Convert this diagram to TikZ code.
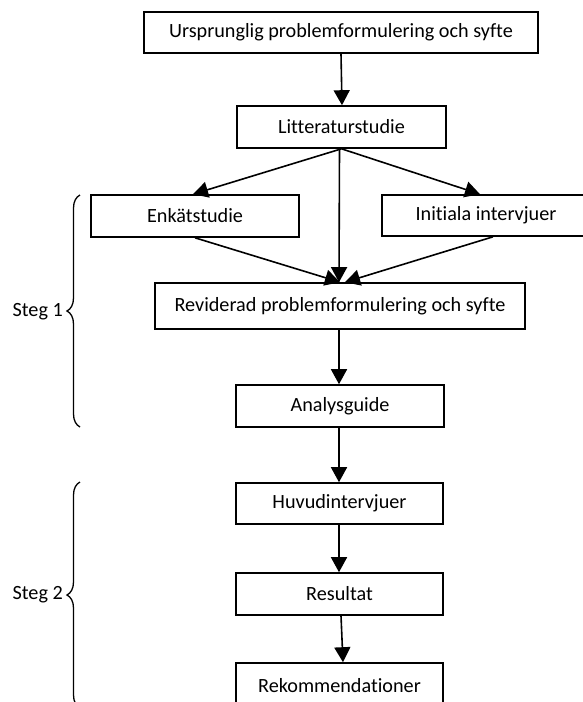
\documentclass[tikz,border=0pt]{standalone}
\usepackage{fontspec}
\setmainfont[Ligatures=NoCommon]{Carlito}
\usetikzlibrary{arrows.meta,calc,decorations.pathreplacing}

\tikzset{
  stepbox/.style={draw, line width=1.6pt, inner sep=0pt, align=center,
    font=\fontsize{20.2}{24}\selectfont},
  flow/.style={line width=1.6pt, -{Triangle[length=15pt,width=16pt]}},
  bracket/.style={line width=1.3pt, decorate,
    decoration={brace, amplitude=13pt, aspect=0.5}},
  phase/.style={anchor=east, inner sep=0pt, font=\fontsize{20.2}{24}\selectfont}
}

\begin{document}
\begin{tikzpicture}[x=1pt, y=-1pt]
  \useasboundingbox (0,0) rectangle (582,702);

  % process boxes
  \node[stepbox, minimum width=394pt, minimum height=41pt] (orig) at (341,32.5)
    {Ursprunglig problemformulering och syfte};
  \node[stepbox, minimum width=209pt, minimum height=42pt] (lit) at (341.5,127)
    {Litteraturstudie};
  \node[stepbox, minimum width=208pt, minimum height=42pt] (enk) at (195,216)
    {Enkätstudie};
  \node[stepbox, minimum width=208pt, minimum height=41pt] (init) at (486,215.5)
    {Initiala intervjuer};
  \node[stepbox, minimum width=370pt, minimum height=46pt] (rev) at (340,306)
    {Reviderad problemformulering och syfte};
  \node[stepbox, minimum width=208pt, minimum height=42pt] (ana) at (340,406)
    {Analysguide};
  \node[stepbox, minimum width=207pt, minimum height=41pt] (huv) at (339.5,503.5)
    {Huvudintervjuer};
  \node[stepbox, minimum width=207pt, minimum height=42pt] (res) at (339.5,594)
    {Resultat};
  \node[stepbox, minimum width=207pt, minimum height=45pt] (rek) at (339.5,685.5)
    {Rekommendationer};

  % connectors
  \draw[flow] (orig.south) -- ($(lit.north)+(0.5,0)$);
  \draw[flow] (lit.south) -- ($(enk.north)+(-2,0)$);
  \draw[flow] (lit.south) -- ($(init.north)+(-6,0)$);
  \draw[flow] ($(lit.south)+(-2,0)$) -- ($(rev.north)+(-1,0)$);
  \draw[flow] (enk.south) -- ($(rev.north)+(0,0)$);
  \draw[flow] ($(init.south)+(7,0)$) -- ($(rev.north)+(5,0)$);
  \draw[flow] ($(rev.south)+(-1,0)$) -- ($(ana.north)+(-1,0)$);
  \draw[flow] ($(ana.south)+(-1,0)$) -- ($(huv.north)+(-0.5,0)$);
  \draw[flow] ($(huv.south)+(-0.5,0)$) -- ($(res.north)+(-0.5,0)$);
  \draw[flow] ($(res.south)+(1.5,0)$) -- ($(rek.north)+(3.5,0)$);

  % phase brackets
  \draw[bracket] (80,427) -- (80,195);
  \draw[bracket] (80,708) -- (80,482);
  \node[phase] (steg1) at (63,312) {Steg 1};
  \node[phase] (steg2) at (63,595) {Steg 2};
\end{tikzpicture}
\end{document}
